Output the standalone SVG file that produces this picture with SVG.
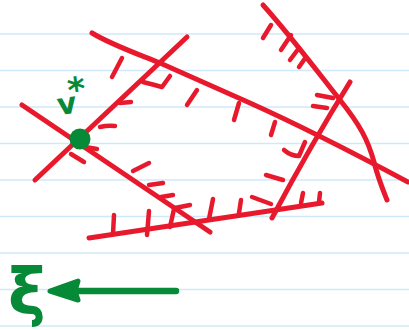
<svg xmlns="http://www.w3.org/2000/svg" width="409" height="330" viewBox="0 0 409 330">
<style>
.rule{stroke:#d0e9f8;stroke-width:1.6;fill:none}
.r{stroke:#e8192c;stroke-width:5;fill:none;stroke-linecap:round;stroke-linejoin:round}
.t{stroke:#e8192c;stroke-width:4.5;fill:none;stroke-linecap:round;stroke-linejoin:round}
.g{stroke:#078a37;stroke-width:6.5;fill:none;stroke-linecap:round;stroke-linejoin:round}
.gt{fill:#078a37;font-family:"DejaVu Sans",sans-serif;font-weight:bold}
</style>
<rect width="409" height="330" fill="#ffffff"/>
<g id="paper">
<line class="rule" x1="0" y1="34" x2="409" y2="34"/>
<line class="rule" x1="0" y1="70.5" x2="409" y2="70.5"/>
<line class="rule" x1="0" y1="107" x2="409" y2="107"/>
<line class="rule" x1="0" y1="143.5" x2="409" y2="143.5"/>
<line class="rule" x1="0" y1="180" x2="409" y2="180"/>
<line class="rule" x1="0" y1="216.5" x2="409" y2="216.5"/>
<line class="rule" x1="0" y1="253" x2="409" y2="253"/>
<line class="rule" x1="0" y1="289.5" x2="409" y2="289.5"/>
<line class="rule" x1="0" y1="326" x2="409" y2="326"/>
</g>
<g id="constraints">
<path class="r" d="M35,180 L187,37"/>
<path class="r" d="M22,105 L210,232"/>
<path class="r" d="M92,33 C110,44 130,51 160,63 L250,103 C290,121 350,151 408,182"/>
<path class="r" d="M263,5 C290,35 320,75 340,100 C360,125 368,140 374,162 C378,178 383,190 387,200"/>
<path class="r" d="M350,82 Q312,143 272,218"/>
<path class="r" d="M89,238 L322,203"/>
</g>
<g id="hatches">
<path class="t" d="M143,82 Q155,85 162,87 L170,76"/>
<path class="t" d="M120,103 L131,102"/>
<path class="t" d="M100,127 Q108,125 115,126"/>
<path class="t" d="M85,147 L97,149"/>
<path class="t" d="M71,154 L84,162"/>
<path class="t" d="M133,171 L149,163"/>
<path class="t" d="M149,185 L163,183"/>
<path class="t" d="M161,197 L173,195"/>
<path class="t" d="M175,208 L190,205"/>
<path class="t" d="M114,215 L113,234"/>
<path class="t" d="M149,211 L147,235"/>
<path class="t" d="M174,209 L170,227"/>
<path class="t" d="M213,199 L209,219"/>
<path class="t" d="M241,200 L239,213"/>
<path class="t" d="M252,197 L271,204"/>
<path class="t" d="M303,193 L301,203"/>
<path class="t" d="M320,193 L319,202"/>
<path class="t" d="M266,175 L283,180"/>
<path class="t" d="M284,150 Q291,156 299,156 L305,142"/>
<path class="t" d="M313,106 L327,108"/>
<path class="t" d="M317,95 L333,98"/>
<path class="t" d="M122,58 L112,77"/>
<path class="t" d="M197,90 L187,105"/>
<path class="t" d="M239,103 L234,120"/>
<path class="t" d="M275,122 L271,135"/>
<path class="t" d="M271,25 L263,38"/>
<path class="t" d="M291,35 L281,50"/>
<path class="t" d="M299,48 L290,60"/>
<path class="t" d="M306,57 L299,67"/>
</g>
<g id="optimum">
<circle cx="80" cy="139" r="10.5" fill="#078a37"/>
<text class="gt" x="57" y="114" font-size="30" transform="rotate(-8 66 104)">v<tspan dx="-7" dy="-11" font-size="34">*</tspan></text>
</g>
<g id="direction">
<path class="g" d="M176,291 L70,291"/>
<path d="M50,291 L78,281 L75,291 L78,300 Z" fill="#078a37" stroke="#078a37" stroke-width="5" stroke-linejoin="round"/>
<text class="gt" x="8" y="314" font-size="64">ξ</text>
</g>
</svg>
